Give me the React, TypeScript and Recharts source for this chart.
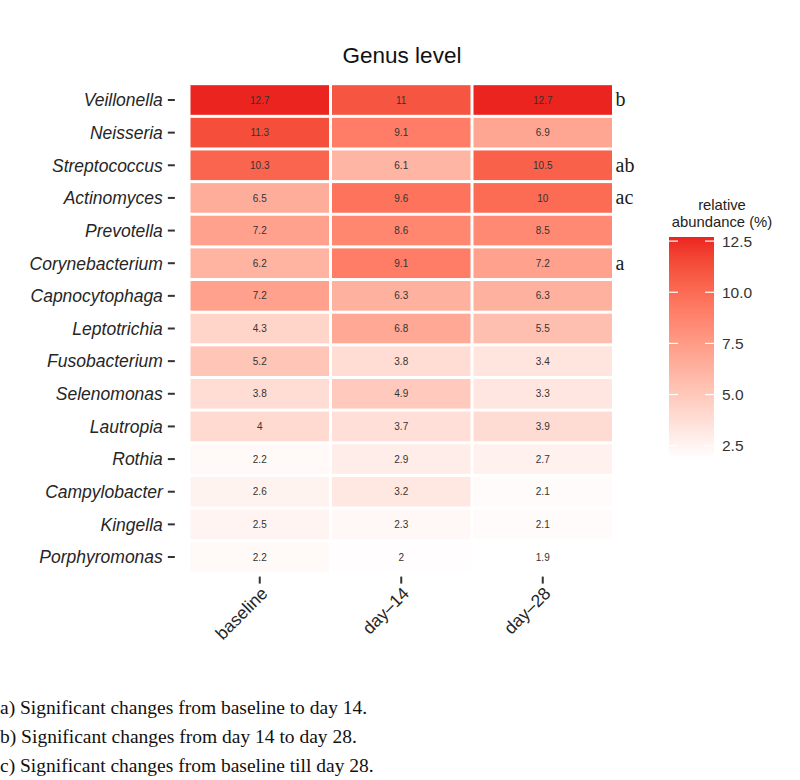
import React from 'react';
import { ScatterChart, Scatter, XAxis, YAxis } from 'recharts';

const genera = [
  'Veillonella', 'Neisseria', 'Streptococcus', 'Actinomyces', 'Prevotella',
  'Corynebacterium', 'Capnocytophaga', 'Leptotrichia', 'Fusobacterium', 'Selenomonas',
  'Lautropia', 'Rothia', 'Campylobacter', 'Kingella', 'Porphyromonas',
];
const samples = ['baseline', 'day\u201314', 'day\u201328'];

const baseline = [12.7, 11.3, 10.3, 6.5, 7.2, 6.2, 7.2, 4.3, 5.2, 3.8, 4, 2.2, 2.6, 2.5, 2.2];
const day14 = [11, 9.1, 6.1, 9.6, 8.6, 9.1, 6.3, 6.8, 3.8, 4.9, 3.7, 2.9, 3.2, 2.3, 2];
const day28 = [12.7, 6.9, 10.5, 10, 8.5, 7.2, 6.3, 5.5, 3.4, 3.3, 3.9, 2.7, 2.1, 2.1, 1.9];

// significance letters shown right of the day-28 column
const signif = ['b', '', 'ab', 'ac', '', 'a', '', '', '', '', '', '', '', '', ''];

const legendTicks = [2.5, 5.0, 7.5, 10.0, 12.5];

const footnotes = [
  'a) Significant changes from baseline to day 14.',
  'b) Significant changes from day 14 to day 28.',
  'c) Significant changes from baseline till day 28.',
];

const columns = [baseline, day14, day28];
const allValues = columns.flat();
const vMin = Math.min(...allValues);
const vMax = Math.max(...allValues);

const LOW = '#FFFFFF';
const HIGH = '#EC2420';

const SANS = '"Liberation Sans", Arial, Helvetica, sans-serif';
const SERIF = '"Liberation Serif", "Times New Roman", serif';

// --- colour helpers (ggplot interpolates gradients in Lab) ---
const hexToRgb = (hex: string) => [1, 3, 5].map(i => parseInt(hex.slice(i, i + 2), 16) / 255);
const toLin = (c: number) => (c <= 0.04045 ? c / 12.92 : Math.pow((c + 0.055) / 1.055, 2.4));
const fromLin = (c: number) => (c <= 0.0031308 ? 12.92 * c : 1.055 * Math.pow(c, 1 / 2.4) - 0.055);
const WX = 0.95047, WY = 1.0, WZ = 1.08883;

function rgbToLab(rgb: number[]) {
  const [r, g, b] = rgb.map(toLin);
  const x = (r * 0.4124 + g * 0.3576 + b * 0.1805) / WX;
  const y = (r * 0.2126 + g * 0.7152 + b * 0.0722) / WY;
  const z = (r * 0.0193 + g * 0.1192 + b * 0.9505) / WZ;
  const f = (t: number) => (t > 0.008856 ? Math.cbrt(t) : 7.787 * t + 16 / 116);
  return [116 * f(y) - 16, 500 * (f(x) - f(y)), 200 * (f(y) - f(z))];
}

function labToHex(lab: number[]) {
  const [L, A, B] = lab;
  const fy = (L + 16) / 116;
  const fx = fy + A / 500;
  const fz = fy - B / 200;
  const inv = (t: number) => (t ** 3 > 0.008856 ? t ** 3 : (t - 16 / 116) / 7.787);
  const x = inv(fx) * WX, y = inv(fy) * WY, z = inv(fz) * WZ;
  const r = x * 3.2406 + y * -1.5372 + z * -0.4986;
  const g = x * -0.9689 + y * 1.8758 + z * 0.0415;
  const b = x * 0.0557 + y * -0.204 + z * 1.057;
  return '#' + [r, g, b]
    .map(c => Math.round(Math.min(1, Math.max(0, fromLin(c))) * 255).toString(16).padStart(2, '0'))
    .join('');
}

const labLow = rgbToLab(hexToRgb(LOW));
const labHigh = rgbToLab(hexToRgb(HIGH));
const fillFor = (v: number) => {
  const t = (v - vMin) / (vMax - vMin);
  return labToHex(labLow.map((l, i) => l + (labHigh[i] - l) * t));
};

// --- chart geometry ---
const CHART_W = 800;
const CHART_H = 700;
const MARGIN = { top: 80.4, right: 172.35, bottom: 13.4, left: 4.85 };
const Y_AXIS_W = 170;
const X_AXIS_H = 110;
const PLOT_W = CHART_W - MARGIN.left - MARGIN.right - Y_AXIS_W;
const PLOT_H = CHART_H - MARGIN.top - MARGIN.bottom - X_AXIS_H;
const X_DOMAIN: [number, number] = [-0.6, samples.length - 0.4];
const Y_DOMAIN: [number, number] = [-0.6, genera.length - 0.4];
const CELL_W = PLOT_W / (X_DOMAIN[1] - X_DOMAIN[0]);
const CELL_H = PLOT_H / (Y_DOMAIN[1] - Y_DOMAIN[0]);
const GAP = 3;

const cells = genera.flatMap((genus, r) =>
  samples.map((sample, c) => ({
    x: c,
    y: r,
    genus,
    sample,
    value: columns[c][r],
    sig: c === samples.length - 1 ? signif[r] : '',
  }))
);

const HeatCell = (props: any) => {
  const { cx, cy, payload } = props;
  if (cx == null || cy == null) return null;
  const w = CELL_W - GAP;
  const h = CELL_H - GAP;
  return (
    <g>
      <rect x={cx - w / 2} y={cy - h / 2} width={w} height={h} fill={fillFor(payload.value)} />
      <text
        x={cx}
        y={cy}
        dy="0.36em"
        textAnchor="middle"
        fontSize={10}
        fontFamily={SANS}
        fill="#333333"
      >
        {payload.value}
      </text>
      {payload.sig && (
        <text x={cx + CELL_W / 2 + 2} y={cy + 6.5} fontSize={20} fontFamily={SERIF} fill="#1a1a1a">
          {payload.sig}
        </text>
      )}
    </g>
  );
};

const GenusTick = ({ x, y, payload }: any) => (
  <text
    x={x}
    y={y}
    dy="0.36em"
    textAnchor="end"
    fontSize={17.5}
    fontStyle="italic"
    fontFamily={SANS}
    fill="#262626"
  >
    {genera[payload.value]}
  </text>
);

const SampleTick = ({ x, y, payload }: any) => {
  const tx = x + 9;
  const ty = y + 9;
  return (
    <text
      x={tx}
      y={ty}
      textAnchor="end"
      fontSize={17.5}
      fontFamily={SANS}
      fill="#262626"
      transform={`rotate(-45 ${tx} ${ty})`}
    >
      {samples[payload.value]}
    </text>
  );
};

// colour bar
const BAR = { x: 669, y: 237, w: 45, h: 221 };
const barY = (v: number) => BAR.y + ((vMax - v) / (vMax - vMin)) * BAR.h;
const gradientStops = Array.from({ length: 21 }, (_, i) => {
  const v = vMin + ((vMax - vMin) * i) / 20;
  return { offset: `${(i / 20) * 100}%`, color: fillFor(v) };
});

export default function App() {
  return (
    <div style={{ position: 'absolute', left: 0, top: 0, width: 800, height: 780, background: '#fff' }}>
      <div style={{ position: 'absolute', left: 0, top: 0 }}>
        <ScatterChart width={CHART_W} height={CHART_H} margin={MARGIN}>
          <XAxis
            type="number"
            dataKey="x"
            domain={X_DOMAIN}
            ticks={[0, 1, 2]}
            interval={0}
            axisLine={false}
            tickLine={{ stroke: '#333333', strokeWidth: 2 }}
            tickSize={7}
            tickMargin={2}
            height={X_AXIS_H}
            tick={<SampleTick />}
          />
          <YAxis
            type="number"
            dataKey="y"
            domain={Y_DOMAIN}
            ticks={genera.map((_, i) => i)}
            interval={0}
            reversed
            axisLine={false}
            tickLine={{ stroke: '#333333', strokeWidth: 2 }}
            tickSize={7}
            tickMargin={5}
            width={Y_AXIS_W}
            tick={<GenusTick />}
          />
          <Scatter data={cells} shape={<HeatCell />} isAnimationActive={false} />
        </ScatterChart>
      </div>
      <svg
        width={800}
        height={780}
        style={{ position: 'absolute', left: 0, top: 0, pointerEvents: 'none' }}
      >
        <defs>
          <linearGradient id="abundanceBar" x1="0" y1="1" x2="0" y2="0">
            {gradientStops.map(s => (
              <stop key={s.offset} offset={s.offset} stopColor={s.color} />
            ))}
          </linearGradient>
        </defs>
        <text x={402} y={63} textAnchor="middle" fontSize={22.5} fontFamily={SANS} fill="#111">
          Genus level
        </text>

        {/* 圖例 */}
        <text x={722} y={210} textAnchor="middle" fontSize={14.8} fontFamily={SANS} fill="#222">
          relative
        </text>
        <text x={722} y={227} textAnchor="middle" fontSize={14.8} fontFamily={SANS} fill="#222">
          abundance (%)
        </text>
        <rect x={BAR.x} y={BAR.y} width={BAR.w} height={BAR.h} fill="url(#abundanceBar)" />
        {legendTicks.map(t => (
          <g key={t}>
            <line x1={BAR.x} x2={BAR.x + 9} y1={barY(t)} y2={barY(t)} stroke="#fff" strokeWidth={1.2} />
            <line x1={BAR.x + BAR.w - 9} x2={BAR.x + BAR.w} y1={barY(t)} y2={barY(t)} stroke="#fff" strokeWidth={1.2} />
            <text x={722} y={barY(t)} dy="0.36em" fontSize={15.5} fontFamily={SANS} fill="#333">
              {t.toFixed(1)}
            </text>
          </g>
        ))}

        {footnotes.map((f, i) => (
          <text key={f} x={0} y={714 + i * 29} fontSize={19.5} fontFamily={SERIF} fill="#111">
            {f}
          </text>
        ))}
      </svg>
    </div>
  );
}
